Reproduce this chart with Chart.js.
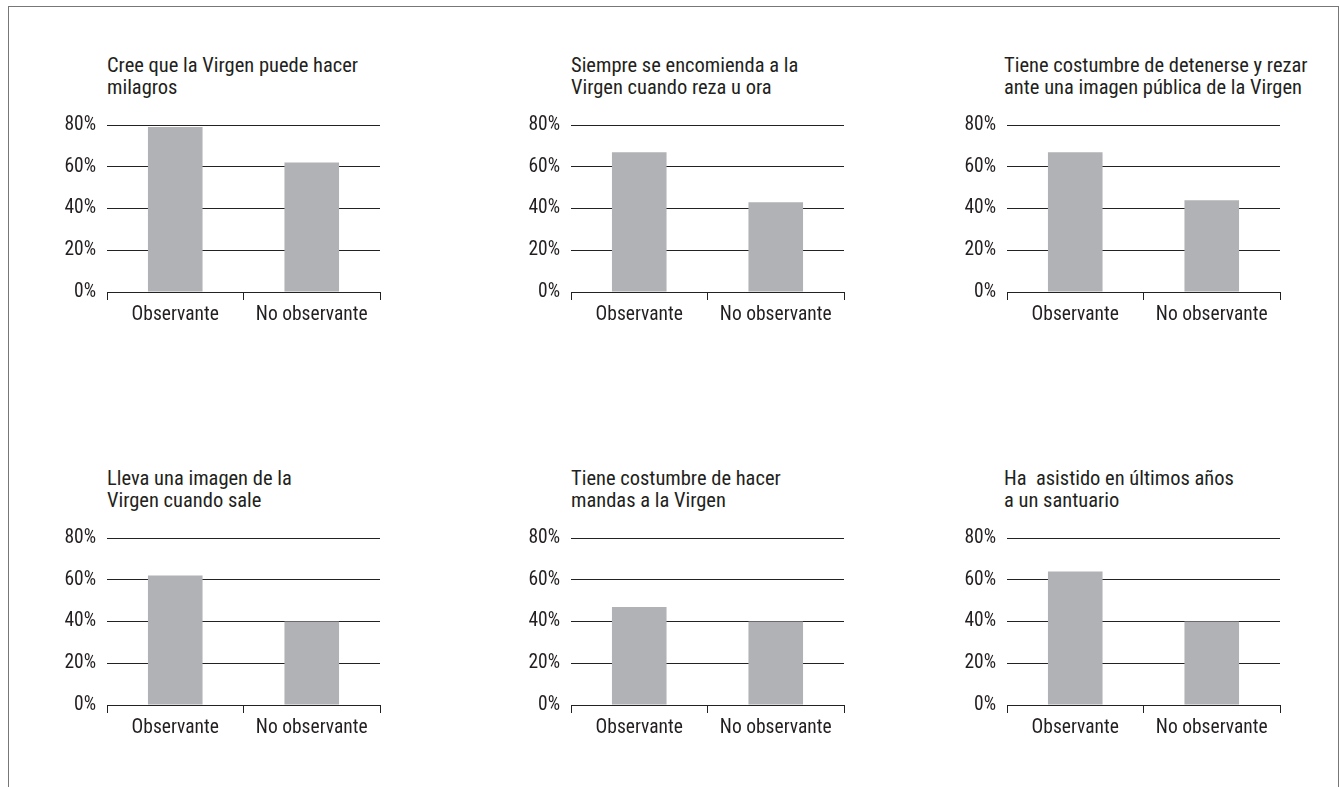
<!DOCTYPE html>
<html>
<head>
<meta charset="utf-8">
<script src="https://cdn.jsdelivr.net/npm/chart.js@4/dist/chart.umd.min.js"></script>
<style>
  body { margin: 0; background: #fff; }
  #lienzo { position: relative; width: 1340px; height: 787px; overflow: hidden; }
  #marco { position: absolute; left: 8px; top: 6px; width: 1329px; height: 900px; border: 1px solid #777; }
  .titulo { position: absolute; font-family: 'Roboto Condensed', 'Liberation Sans', sans-serif;
            font-size: 20.5px; line-height: 22px; color: #231f20; white-space: pre; }
  canvas { position: absolute; }
</style>
</head>
<body>
<div id="lienzo"><div id="marco"></div></div>
<script>
// datos de las seis graficas
const categorias = ['Observante', 'No observante'];
const titulos = [
  ['Cree que la Virgen puede hacer', 'milagros'],
  ['Siempre se encomienda a la', 'Virgen cuando reza u ora'],
  ['Tiene costumbre de detenerse y rezar', 'ante una imagen pública de la Virgen'],
  ['Lleva una imagen de la', 'Virgen cuando sale'],
  ['Tiene costumbre de hacer', 'mandas a la Virgen'],
  ['Ha  asistido en últimos años', 'a un santuario']
];
const observante = [79, 67, 67, 62, 47, 64];
const noObservante = [62, 43, 44, 40, 40, 40];
const etiquetasY = ['0%', '20%', '40%', '60%', '80%'];

// posicion de cada grafica (borde izquierdo de la rejilla, linea del 80%)
const columnas = [107, 571, 1007];
const filas = [125, 538];
const ajusteTitulo = [0, 0, -3];

Chart.defaults.font.family = "'Roboto Condensed', 'Liberation Sans', sans-serif";
Chart.defaults.color = '#231f20';

const $lienzo = document.getElementById('lienzo');

for (let i = 0; i < 6; i++) {
  const col = i % 3, fila = Math.floor(i / 3);
  const x0 = columnas[col], y0 = filas[fila];

  const tit = document.createElement('div');
  tit.className = 'titulo';
  tit.style.left = (x0 + ajusteTitulo[col]) + 'px';
  tit.style.top = (y0 - 71) + 'px';
  tit.textContent = titulos[i].join('\n');
  $lienzo.appendChild(tit);

  const c = document.createElement('canvas');
  c.width = 336; c.height = 219;
  c.style.left = (x0 - 60) + 'px';
  c.style.top = (y0 - 12) + 'px';
  $lienzo.appendChild(c);

  new Chart(c, {
    type: 'bar',
    data: {
      labels: categorias,
      datasets: [{
        data: [observante[i], noObservante[i]],
        backgroundColor: '#b1b2b5',
        borderWidth: 0,
        categoryPercentage: 1,
        barPercentage: 0.4
      }]
    },
    options: {
      responsive: false,
      animation: false,
      layout: { padding: { top: 12, right: 3, left: 0, bottom: 0 } },
      plugins: { legend: { display: false }, tooltip: { enabled: false } },
      scales: {
        x: {
          afterFit: (s) => { s.height = 40; s.paddingLeft = 0; s.paddingRight = 0; },
          grid: { drawOnChartArea: false, tickLength: 8, color: '#222', offset: true },
          border: { display: true, color: '#222', width: 1 },
          ticks: { font: { size: 19.5 }, padding: 3, maxRotation: 0 }
        },
        y: {
          min: 0, max: 80,
          afterFit: (s) => { s.width = 60; s.paddingTop = 0; s.paddingBottom = 0; },
          grid: { drawTicks: false, color: '#222' },
          border: { display: false },
          ticks: { stepSize: 20, padding: 11, font: { size: 19.5 },
                   callback: (v, idx) => etiquetasY[idx] }
        }
      }
    }
  });
}
</script>
</body>
</html>
